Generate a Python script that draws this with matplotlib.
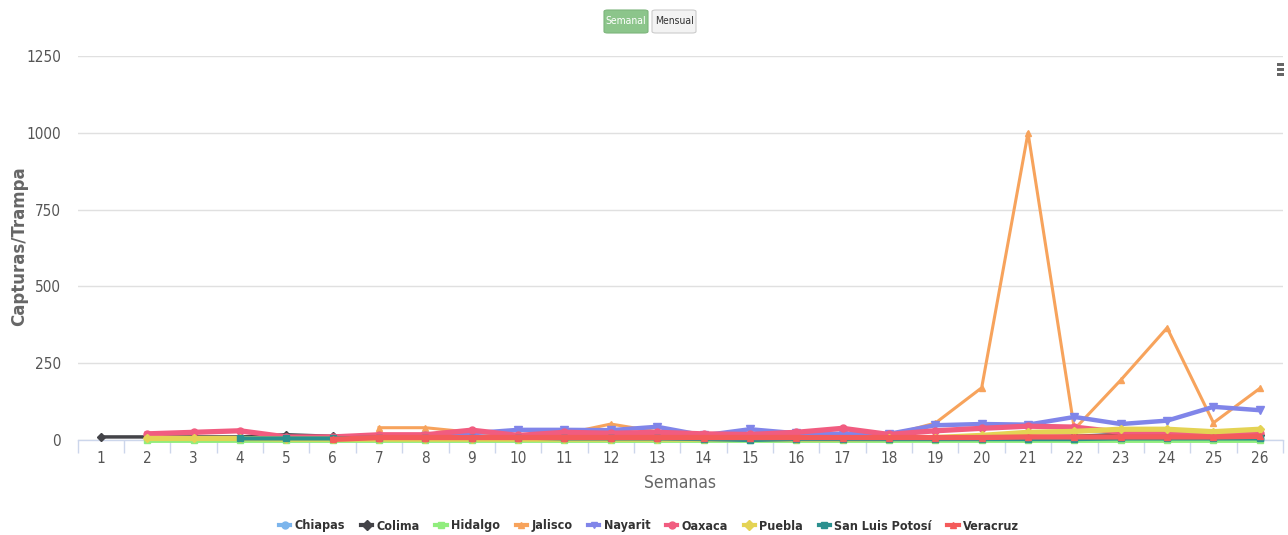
import numpy as np
import matplotlib
matplotlib.use("Agg")
import matplotlib.pyplot as plt
from matplotlib.patches import FancyBboxPatch, Rectangle
from matplotlib.lines import Line2D

nan = np.nan
weeks = list(range(1, 27))

chiapas = [nan]*17 + [3, 3, 3, 3, 3, 3, 3, 3, 3]
colima = [10, 10, 10, 10, 17, 12, 8, 8, 8, 8, 8, 8, 8, 8, 8, 8, 8, 8, 8, 8, 10, 12, 18, 20, 15, 15]
hidalgo = [nan, 0, 0, 0, 0, 0, 0, 0, 0, 0, 0, 0, 0, 0, 0, 0, 0, 0, 0, 0, 0, 0, 0, 0, 0, 0]
jalisco = [nan]*6 + [40, 40, 25, 15, 20, 52, 27, 15, 12, 15, 20, 15, 55, 170, 1000, 35, 195, 365, 56, 168]
nayarit = [nan]*6 + [10, 12, 22, 33, 33, 32, 43, 15, 35, 22, 20, 20, 48, 52, 50, 75, 52, 63, 108, 97]
oaxaca = [nan, 20, 25, 30, 10, 10, 17, 17, 32, 15, 25, 22, 25, 20, 18, 25, 38, 18, 30, 38, 45, 42, 25, 25, 20, 22]
puebla = [nan, 5, 5, 5, 3, 3, 3, 3, 3, 3, 3, 3, 3, 3, 3, 3, 3, 5, 8, 15, 25, 28, 35, 35, 27, 35]
slp = [nan, nan, nan, 5, 5, 5, 8, 8, 8, 8, 5, 5, 5, 3, 0, 3, 3, 3, 3, 3, 3, 3, 5, 5, 5, 5]
veracruz = [nan]*5 + [2, 8, 8, 8, 8, 8, 8, 8, 8, 8, 8, 8, 8, 8, 8, 10, 10, 10, 10, 10, 12]

names = ["Chiapas", "Colima", "Hidalgo", "Jalisco", "Nayarit", "Oaxaca", "Puebla", "San Luis Potosí", "Veracruz"]
series = [chiapas, colima, hidalgo, jalisco, nayarit, oaxaca, puebla, slp, veracruz]
colors = ["#7cb5ec", "#434348", "#90ed7d", "#f7a35c", "#8085e9", "#f15c80", "#e4d354", "#2b908f", "#f45b5b"]
markers = ["o", "D", "s", "^", "v", "o", "D", "s", "^"]
widths = [3.5, 2.5, 3.5, 2.2, 3.2, 3.8, 3.8, 3.0, 3.8]
msizes = [5, 4.5, 5, 5, 5.5, 5, 4.5, 5, 5]

yticks = [0, 250, 500, 750, 1000, 1250]

plt.rcParams['font.family'] = ["DejaVu Sans"]
plt.rcParams['font.stretch'] = 'condensed'

W, H = 1288, 535
fig = plt.figure(figsize=(W/100, H/100), dpi=100)
left = 77.7 / W
right = 1283 / W
bottom = (H - 440) / H
top = (H - 56) / H
ax = fig.add_axes([left, bottom, right - left, top - bottom])

x = np.array(weeks)
for i, (nm, s) in enumerate(zip(names, series)):
    ax.plot(x, s, color=colors[i], lw=widths[i], marker=markers[i], ms=msizes[i],
            mec=colors[i], mfc=colors[i], label=nm, clip_on=False, zorder=3 + i,
            solid_joinstyle='round')

ax.set_xlim(0.5, 0.5 + (1283 - 77.7) / 46.64)
ax.set_ylim(0, 1250)
ax.set_yticks(yticks)
ax.set_yticklabels([str(v) for v in yticks])
ax.set_xticks(weeks)
ax.set_xticklabels([str(w) for w in weeks])
ax.set_xticks(np.arange(0.5, 27, 1), minor=True)
ax.tick_params(axis='x', which='major', length=0, labelsize=11, labelcolor="#555555", pad=8)
ax.tick_params(axis='x', which='minor', length=9, color="#ccd6eb", width=1)
ax.tick_params(axis='y', length=0, labelsize=11, labelcolor="#555555", pad=12)
ax.tick_params(top=False, right=False, left=False)
ax.grid(axis='y', color="#e0e0e0", lw=1)
ax.set_axisbelow(True)
for sp in ["top", "right", "left"]:
    ax.spines[sp].set_visible(False)
ax.spines["bottom"].set_color("#ccd6eb")
ax.spines["bottom"].set_linewidth(1)
ax.spines["bottom"].set_zorder(2)

ax.set_xlabel("Semanas", fontsize=12.5, color="#666666", labelpad=6)
fig.text(0.0145, (H - 246) / H, "Capturas/Trampa", rotation=90, fontsize=12,
         fontweight="bold", color="#666666", ha="center", va="center", fontstretch="normal")

handles = [Line2D([0], [0], color=c, lw=3, marker=m, ms=5, mec=c, mfc=c)
           for c, m in zip(colors, markers)]
leg = fig.legend(handles, names, loc="center", bbox_to_anchor=(649 / W, (H - 526) / H), ncol=9,
                 frameon=False, handlelength=0.9, handletextpad=0.35,
                 columnspacing=1.25, prop={'weight': 'bold', 'size': 9, 'stretch': 'condensed'})
for t in leg.get_texts():
    t.set_color("#333333")

# Buttons
b1 = FancyBboxPatch((604 / W, (H - 33) / H), 44 / W, 23 / H, boxstyle="round,pad=0,rounding_size=0.003",
                    transform=fig.transFigure, facecolor="#8cc58b", edgecolor="#7db57c", lw=0.8)
b2 = FancyBboxPatch((652 / W, (H - 33) / H), 44 / W, 23 / H, boxstyle="round,pad=0,rounding_size=0.003",
                    transform=fig.transFigure, facecolor="#f3f3f3", edgecolor="#cccccc", lw=0.8)
fig.patches.extend([b1, b2])
fig.text(626 / W, (H - 21.5) / H, "Semanal", fontsize=7.5, color="white", ha="center", va="center")
fig.text(674 / W, (H - 21.5) / H, "Mensual", fontsize=7.5, color="#333333", ha="center", va="center")

# menu icon
for yy in (63, 68, 73):
    fig.patches.append(Rectangle((1277 / W, (H - yy - 3) / H), 7 / W, 3 / H,
                                 transform=fig.transFigure, facecolor="#666666", edgecolor="none"))

fig.savefig("out.png", dpi=100, facecolor="white")
